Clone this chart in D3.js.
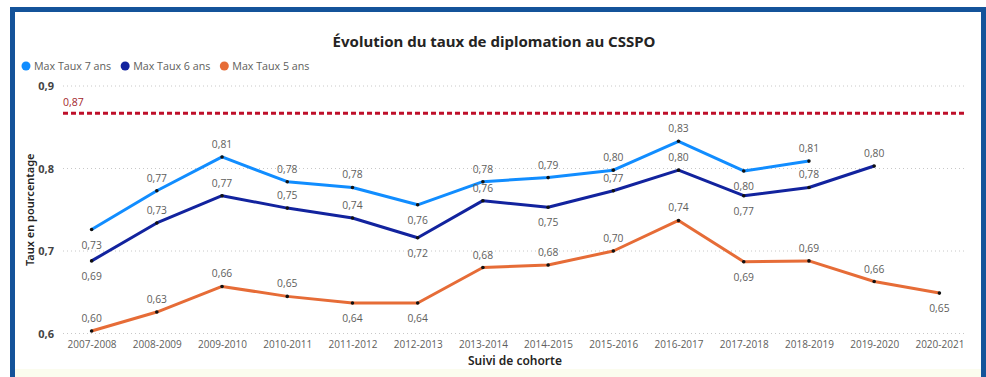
<!DOCTYPE html>
<html>
<head>
<meta charset="utf-8">
<script src="https://cdn.jsdelivr.net/npm/d3@7"></script>
<style>
  body { margin: 0; background: #fff; }
  svg { display: block; }
</style>
</head>
<body>
<script>
// data
const cohortes = ["2007-2008", "2008-2009", "2009-2010", "2010-2011", "2011-2012", "2012-2013", "2013-2014",
  "2014-2015", "2015-2016", "2016-2017", "2017-2018", "2018-2019", "2019-2020", "2020-2021"];
const taux7 = [0.726, 0.773, 0.814, 0.784, 0.777, 0.756, 0.784, 0.789, 0.798, 0.833, 0.797, 0.809, null, null];
const taux6 = [0.688, 0.734, 0.767, 0.752, 0.740, 0.716, 0.761, 0.753, 0.773, 0.798, 0.767, 0.777, 0.803, null];
const taux5 = [0.603, 0.626, 0.657, 0.645, 0.637, 0.637, 0.680, 0.683, 0.700, 0.737, 0.687, 0.688, 0.663, 0.649];
const cible = 0.867;
const yTicks = [0.6, 0.7, 0.8, 0.9];
// where Power BI put each data label (1 = above, -1 = below)
const place7 = [-1, 1, 1, 1, 1, -1, 1, 1, 1, 1, -1, 1, 0, 0];
const place6 = [-1, 1, 1, 1, 1, -1, 1, -1, 1, 1, -1, 1, 1, 0];
const place5 = [1, 1, 1, 1, -1, -1, 1, 1, 1, 1, -1, 1, 1, -1];

const series = [
  {name: "Max Taux 7 ans", values: taux7, place: place7, color: "#118DFF"},
  {name: "Max Taux 6 ans", values: taux6, place: place6, color: "#12239E"},
  {name: "Max Taux 5 ans", values: taux5, place: place5, color: "#E66C37"}
];

const width = 986, height = 377;
const fmt = v => d3.format(".2f")(v).replace(".", ",");

const svg = d3.select("body").append("svg")
  .attr("width", width)
  .attr("height", height);

// frame
svg.append("rect").attr("x", 0).attr("y", 0).attr("width", width).attr("height", height).attr("fill", "#fff");
svg.append("rect").attr("x", 15).attr("y", 369).attr("width", 966).attr("height", 8).attr("fill", "#fbfcee");
svg.append("path")
  .attr("d", `M12.5,${height} V9.5 H983.5 V${height}`)
  .attr("fill", "none")
  .attr("stroke", "#14539A")
  .attr("stroke-width", 5);

// title
svg.append("text")
  .attr("x", 494).attr("y", 47)
  .attr("text-anchor", "middle")
  .style("font-family", "'Noto Sans', sans-serif")
  .style("font-size", "15px")
  .style("font-weight", "700")
  .attr("fill", "#252423")
  .text("Évolution du taux de diplomation au CSSPO");

// legend
const legend = svg.append("g").attr("transform", "translate(26, 66)");
let lx = 0;
series.forEach(s => {
  const g = legend.append("g").attr("transform", `translate(${lx}, 0)`);
  g.append("circle").attr("r", 4.5).attr("fill", s.color);
  const t = g.append("text")
    .attr("x", 8).attr("y", 4)
    .style("font-family", "'Open Sans', sans-serif")
    .style("font-size", "10.7px")
    .attr("fill", "#605E5C")
    .text(s.name);
  lx += 8 + t.node().getComputedTextLength() + 14;
});

// scales
const x = d3.scalePoint()
  .domain(cohortes)
  .range([59, 972])
  .padding(0.5);

const y = d3.scaleLinear()
  .domain([0.6, 0.9])
  .range([333.5, 86]);

// gridlines
svg.append("g")
  .selectAll("line")
  .data(yTicks)
  .join("line")
    .attr("x1", 63).attr("x2", 966)
    .attr("y1", d => y(d)).attr("y2", d => y(d))
    .attr("stroke", "#c8c8c8")
    .attr("stroke-width", 1)
    .attr("stroke-dasharray", "1,3");

// y axis
const yAxis = svg.append("g")
  .attr("transform", "translate(54, 0)")
  .call(d3.axisLeft(y).tickValues(yTicks).tickSize(0).tickPadding(0).tickFormat(d => fmt(d).replace(/0$/, "")));
yAxis.select(".domain").remove();
yAxis.selectAll("text")
  .style("font-family", "'Open Sans', sans-serif")
  .style("font-size", "11px")
  .style("font-weight", "700")
  .attr("fill", "#444");

svg.append("text")
  .attr("transform", `translate(34, ${y(0.75)}) rotate(-90)`)
  .attr("text-anchor", "middle")
  .style("font-family", "'Noto Sans', sans-serif")
  .style("font-size", "11px")
  .style("font-weight", "600")
  .attr("fill", "#252423")
  .text("Taux en pourcentage");

// x axis
const xAxis = svg.append("g")
  .attr("transform", "translate(0, 339)")
  .call(d3.axisBottom(x).tickSize(0).tickPadding(0));
xAxis.select(".domain").remove();
xAxis.selectAll("text")
  .attr("dy", "0.9em")
  .style("font-family", "'Open Sans', sans-serif")
  .style("font-size", "10px")
  .attr("fill", "#605E5C");

svg.append("text")
  .attr("x", 515).attr("y", 365)
  .attr("text-anchor", "middle")
  .style("font-family", "'Noto Sans', sans-serif")
  .style("font-size", "12px")
  .style("font-weight", "600")
  .attr("fill", "#252423")
  .text("Suivi de cohorte");

// target line
svg.append("line")
  .attr("x1", 63).attr("x2", 966)
  .attr("y1", y(cible)).attr("y2", y(cible))
  .attr("stroke", "#BE0F2A")
  .attr("stroke-width", 3)
  .attr("stroke-dasharray", "5,3");
svg.append("text")
  .attr("x", 63).attr("y", y(cible) - 7)
  .style("font-family", "'Open Sans', sans-serif")
  .style("font-size", "10.5px")
  .attr("fill", "#A4262C")
  .text(fmt(cible));

// lines
const line = d3.line()
  .defined(d => d != null)
  .x((d, i) => x(cohortes[i]))
  .y(d => y(d));

series.forEach(s => {
  svg.append("path")
    .datum(s.values)
    .attr("fill", "none")
    .attr("stroke", s.color)
    .attr("stroke-width", 3)
    .attr("stroke-linejoin", "round")
    .attr("d", line);
});

series.forEach(s => {
  const pts = s.values.map((v, i) => ({v, i, p: s.place[i]})).filter(d => d.v != null);
  svg.append("g")
    .selectAll("circle")
    .data(pts)
    .join("circle")
      .attr("cx", d => x(cohortes[d.i]))
      .attr("cy", d => y(d.v))
      .attr("r", 1.8)
      .attr("fill", "#111");
  svg.append("g")
    .selectAll("text")
    .data(pts)
    .join("text")
      .attr("x", d => x(cohortes[d.i]))
      .attr("y", d => y(d.v) + (d.p > 0 ? -9 : 19))
      .attr("text-anchor", "middle")
      .style("font-family", "'Open Sans', sans-serif")
      .style("font-size", "10.3px")
      .attr("fill", "#605E5C")
      .text(d => fmt(d.v));
});
</script>
</body>
</html>
